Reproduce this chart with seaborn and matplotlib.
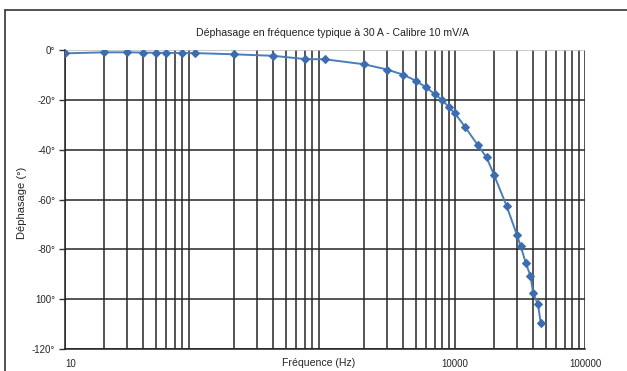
import matplotlib
matplotlib.use("Agg")
import matplotlib.pyplot as plt
from matplotlib.lines import Line2D
import seaborn as sns
import pandas as pd

# frequency (Hz) and phase shift (deg)
freq = [10, 20, 30, 40, 50, 60, 80, 100, 200, 400, 700, 1000, 2000, 3000, 4000,
        5000, 6000, 7000, 8000, 9000, 10000, 12000, 15000, 17500, 20000, 25000,
        30000, 32000, 35000, 38000, 40000, 43500, 45600]
phase = [-1.3, -0.9, -0.9, -1.0, -1.1, -1.1, -1.2, -1.2, -1.7, -2.3, -3.6, -3.7,
         -5.7, -7.8, -9.9, -12.3, -15.0, -17.7, -20.1, -23.0, -25.4, -31.0, -38.2,
         -43.1, -50.2, -62.7, -74.3, -78.7, -85.4, -90.5, -97.7, -102.1, -109.4]

y_ticks = [0, -20, -40, -60, -80, -100, -120]
y_labels = ["0°", "-20°", "-40°", "-60°", "-80°", "100°", "-120°"]
x_ticks = [10, 10000, 100000]
x_labels = ["10", "10000", "100000"]

title = "Déphasage en fréquence typique à 30 A - Calibre 10 mV/A"

sns.set_style("white")
plt.rcParams['font.family'] = ['Liberation Sans', 'DejaVu Sans']

df = pd.DataFrame({"freq": freq, "phase": phase})

fig = plt.figure(figsize=(6.27, 3.71), dpi=100)
ax = fig.add_axes([0.1037, 0.0593, 0.8293, 0.8057])

sns.lineplot(data=df, x="freq", y="phase", ax=ax, color="#4a7ebb", lw=1.4,
             marker="D", markersize=4.5, markeredgecolor="#3c6db0",
             markerfacecolor="#3c6db0", zorder=5)

ax.set_xscale("log")
ax.set_xlim(10, 100000)
ax.set_ylim(-120, 0)

ax.set_xticks(x_ticks)
ax.set_xticklabels(x_labels, fontsize=7)
ax.set_yticks(y_ticks)
ax.set_yticklabels(y_labels, fontsize=7)
ax.tick_params(axis="x", which="both", length=0, pad=7)
ax.tick_params(axis="y", length=4, width=1, color="#333333", pad=3, left=True)
ax.tick_params(axis="x", which="minor", length=0)
ax.get_xticklabels()[0].set_ha("left")

ax.grid(True, which="both", axis="x", color="#262626", lw=1.1)
ax.grid(True, which="major", axis="y", color="#262626", lw=1.1)
ax.get_ygridlines()[0].set_color("#bbbbbb")

for side in ["top", "right"]:
    ax.spines[side].set_visible(False)
for side in ["left", "bottom"]:
    ax.spines[side].set_color("#222222")
    ax.spines[side].set_linewidth(1.1)

ax.set_xlabel("Fréquence (Hz)", fontsize=7.6)
ax.set_ylabel("Déphasage (°)", fontsize=8)
ax.xaxis.set_label_coords(0.487, -0.047)
ax.xaxis.label.set_va("center")
ax.yaxis.set_label_coords(-0.083, 0.49)
ax.yaxis.label.set_va("center")

fig.text(0.531, 0.911, title, ha="center", va="center", fontsize=7.6, color="#222222")

# outer frame (top and left)
fig.add_artist(Line2D([0.008, 1.0], [0.973, 0.973], transform=fig.transFigure,
                      color="#333333", lw=1.2))
fig.add_artist(Line2D([0.008, 0.008], [0.0, 0.973], transform=fig.transFigure,
                      color="#333333", lw=1.2))

fig.savefig("out.png", dpi=100)
